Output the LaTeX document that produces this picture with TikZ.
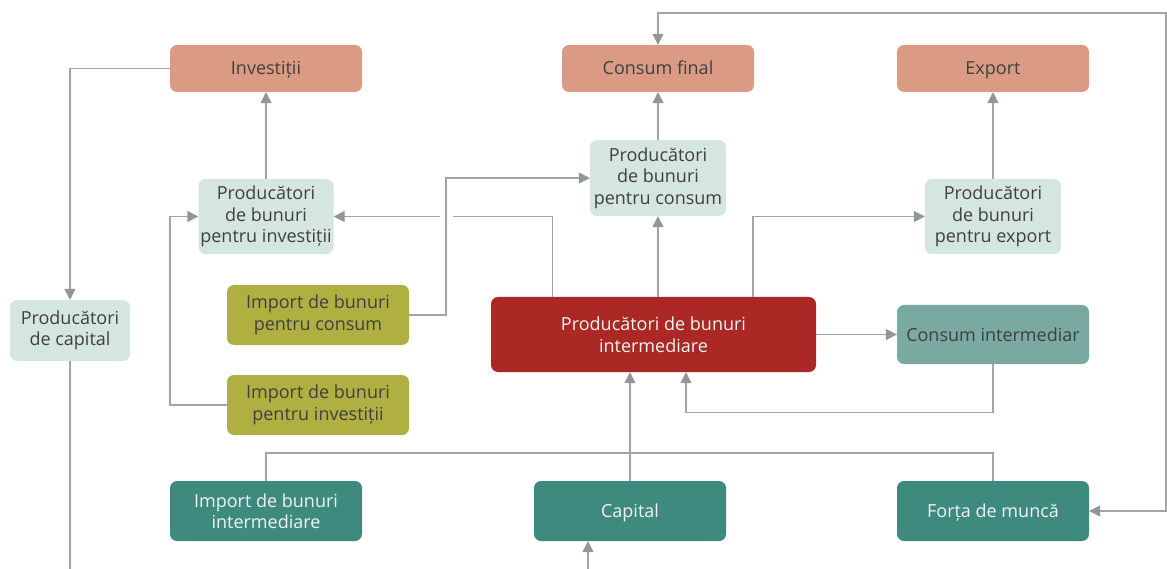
\documentclass[tikz,border=0pt]{standalone}
\usepackage{fontspec}
\setmainfont{Open Sans}
\usetikzlibrary{arrows.meta}
\definecolor{salmon}{HTML}{DA9A84}
\definecolor{mint}{HTML}{D5E5E1}
\definecolor{olive}{HTML}{B0AF42}
\definecolor{brick}{HTML}{AB2824}
\definecolor{sage}{HTML}{7AA9A1}
\definecolor{teal}{HTML}{3F8A7F}
\definecolor{ink}{HTML}{404040}
\definecolor{paper}{HTML}{EEF4F2}
\definecolor{linegray}{HTML}{A3A4A6}
\definecolor{tipgray}{HTML}{939598}
\begin{document}
\begin{tikzpicture}[x=1pt,y=-1pt,
  box/.style={rounded corners=7pt, inner sep=0pt, align=center, text=ink,
    font=\fontsize{18}{21.5}\selectfont},
  light/.style={box, text=paper},
  oneline/.style={text height=15pt, text depth=2pt},
  conn/.style={draw=linegray, line width=1.5pt},
  arr/.style={conn, -{Triangle[length=11pt,width=11pt,color=tipgray]}},
  arrboth/.style={conn, {Triangle[length=11pt,width=11pt,color=tipgray]}-{Triangle[length=11pt,width=11pt,color=tipgray]}}
]
\useasboundingbox (0,0) rectangle (1167,569);

% top row
\node[box, oneline, fill=salmon, minimum width=192pt, minimum height=47pt] (inv) at (266,68.5) {Investiții};
\node[box, oneline, fill=salmon, minimum width=192pt, minimum height=47pt] (cf) at (658,68.5) {Consum final};
\node[box, oneline, fill=salmon, minimum width=192pt, minimum height=47pt] (exp) at (993,68.5) {Export};

% producers
\node[box, fill=mint, minimum width=135pt, minimum height=75pt] (pinv) at (266,216.5) {Producători\\de bunuri\\pentru investiții};
\node[box, fill=mint, minimum width=136pt, minimum height=76pt] (pcons) at (658,178) {Producători\\de bunuri\\pentru consum};
\node[box, fill=mint, minimum width=136pt, minimum height=75pt] (pexp) at (993,216.5) {Producători\\de bunuri\\pentru export};
\node[box, fill=mint, minimum width=120pt, minimum height=61pt] (cap) at (70,330.5) {Producători\\de capital};

% imports
\node[box, fill=olive, minimum width=182pt, minimum height=60pt] (impcons) at (318,315) {Import de bunuri\\pentru consum};
\node[box, fill=olive, minimum width=182pt, minimum height=60pt] (impinv) at (318,405) {Import de bunuri\\pentru investiții};

% centre
\node[light, fill=brick, minimum width=325pt, minimum height=75pt] (red) at (653.5,334.5) {Producători de bunuri\\intermediare};
\node[box, oneline, fill=sage, minimum width=192pt, minimum height=59pt] (ci) at (993,334.5) {Consum intermediar};

% bottom row
\node[light, fill=teal, minimum width=192pt, minimum height=60pt] (impint) at (266,511) {Import de bunuri\\intermediare};
\node[light, oneline, fill=teal, minimum width=192pt, minimum height=60pt] (capital) at (630,511) {Capital};
\node[light, oneline, fill=teal, minimum width=192pt, minimum height=60pt] (forta) at (993,511) {Forța de muncă};

% free ends
\coordinate (capend) at (70,569);
\coordinate (capin) at (588,569);

% connectors
\draw[arr] (pinv.north) -- (inv.south);
\draw[arr] (pcons.north) -- (cf.south);
\draw[arr] (pexp.north) -- (exp.south);
\draw[arr] (inv.west) -| (cap.north);
\draw[conn] (cap.south) -- (capend);
\draw[arr] (capin) -- (capin |- capital.south);

\draw[arr] ([xshift=-101pt]red.north) |- (pinv.east);
\draw[arr] (red.north -| pcons.south) -- (pcons.south);
\draw[arr] ([xshift=99.5pt]red.north) |- (pexp.west);
\draw[arr] (red.east) -- (ci.west);
\draw[arr] (ci.south) -- ++(0,48.5) -| ([xshift=32.5pt]red.south);
\draw[arr] (capital.north) -- (capital.north |- red.south);
\draw[conn] (impint.north) -- ++(0,-28) -| (forta.north);
\draw[arr] (impinv.west) -- ++(-57,0) |- (pinv.west);

% import for consumption, crossing with a gap
\path (impcons.east) -- ++(37,0) coordinate (ic1);
\draw[white, line width=13pt] ([yshift=-3pt]ic1 |- pinv.east) -- ([yshift=3pt]ic1 |- pinv.east);
\draw[arr] (impcons.east) -- (ic1) |- (pcons.west);

% labour loop
\draw[arrboth] (forta.east) -- ++(77,0) -- ++(0,-498) -| (cf.north);
\end{tikzpicture}
\end{document}
